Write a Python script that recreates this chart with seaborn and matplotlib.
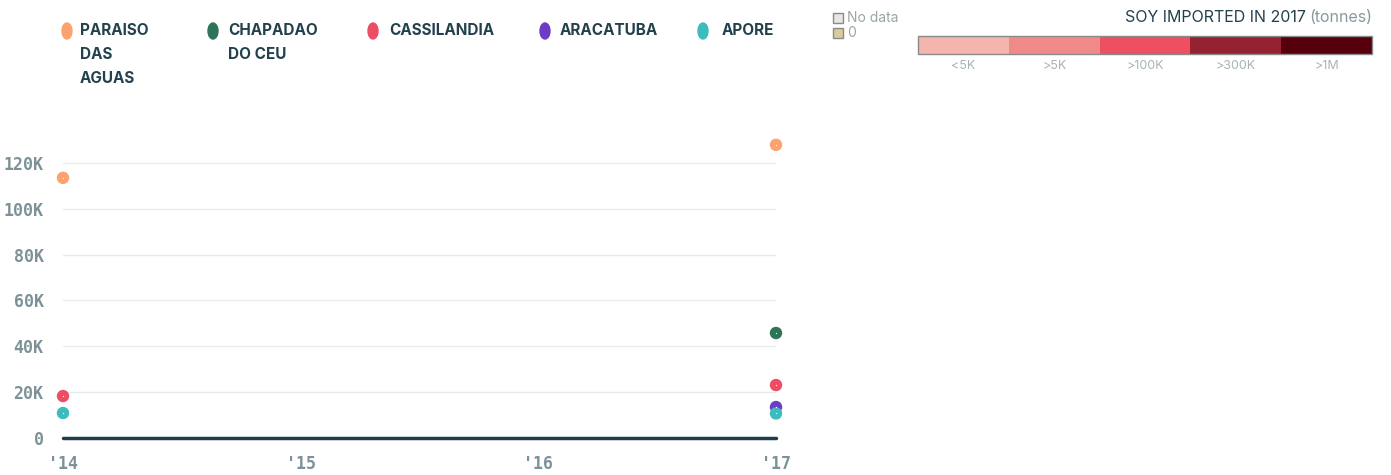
import numpy as np
import pandas as pd
import matplotlib
matplotlib.use("Agg")
import matplotlib.pyplot as plt
import seaborn as sns
from matplotlib.patches import Ellipse, Rectangle

# data (tonnes)
municipalities = ["PARAISO\nDAS\nAGUAS", "CHAPADAO\nDO CEU", "CASSILANDIA", "ARACATUBA", "APORE"]
colors = ["#fba26f", "#2d7459", "#ee4d66", "#6e3bc4", "#3dbcbd"]
years = [2014, 2017]
paraiso = [113500, 127900]
chapadao = [np.nan, 45800]
cassilandia = [18300, 23100]
aracatuba = [np.nan, 13500]
apore = [10900, 10700]

yticks = [0, 20000, 40000, 60000, 80000, 100000, 120000]
ytick_labels = ["0", "20K", "40K", "60K", "80K", "100K", "120K"]
xticks = [2014, 2015, 2016, 2017]
xtick_labels = ["'14", "'15", "'16", "'17"]

scale_colors = ["#f4b5ae", "#f08a88", "#ee4f62", "#952231", "#55000c"]
scale_labels = ["<5K", ">5K", ">100K", ">300K", ">1M"]

rows = []
for name, vals in zip(municipalities, [paraiso, chapadao, cassilandia, aracatuba, apore]):
    for yr, v in zip(years, vals):
        if not np.isnan(v):
            rows.append({"year": yr, "value": v, "name": name})
df = pd.DataFrame(rows)

sns.set_style("white")
plt.rcParams["font.family"] = ["Inter", "DejaVu Sans"]

W, H = 1391, 475
fig = plt.figure(figsize=(W / 100, H / 100), dpi=100)
ax = fig.add_axes([63 / W, 1 - 438 / H, 713 / W, 298 / H])

for y in yticks[1:]:
    ax.axhline(y, color="#e8ecec", lw=1, zorder=0)
ax.axhline(0, color="#1f3d4a", lw=2.5, zorder=1, clip_on=False)

sns.scatterplot(data=df, x="year", y="value", hue="name", palette=dict(zip(municipalities, colors)),
                hue_order=municipalities, s=80, edgecolor="none", legend=False, ax=ax, clip_on=False, zorder=3)
ax.scatter(df["year"], df["value"], s=0.8, color="white", zorder=4, clip_on=False, lw=0)

ax.set_xlim(2014, 2017)
ax.set_ylim(0, 130000)
ax.set_xticks(xticks)
ax.set_xticklabels(xtick_labels)
ax.set_yticks(yticks)
ax.set_yticklabels(ytick_labels)
ax.set_xlabel("")
ax.set_ylabel("")
for s in ax.spines.values():
    s.set_visible(False)
ax.tick_params(length=0)
ax.tick_params(axis="y", pad=14)
ax.tick_params(axis="x", pad=12)
for lab in ax.get_xticklabels() + ax.get_yticklabels():
    lab.set_family("DejaVu Sans Mono")
    lab.set_fontweight("bold")
    lab.set_color("#7d9298")
    lab.set_fontsize(12)

# legend
mark_x = [67, 213, 373, 545, 703]
text_x = [80, 228, 389, 560, 722]
for name, c, mx, tx in zip(municipalities, colors, mark_x, text_x):
    fig.patches.append(Ellipse((mx / W, 1 - 31 / H), 10 / W, 16 / H, color=c, transform=fig.transFigure))
    fig.text(tx / W, 1 - 23 / H, name, fontsize=11, fontweight="bold", color="#23414d",
             va="top", ha="left", linespacing=1.75)

# choropleth scale legend
fig.patches.append(Rectangle((833 / W, 1 - 23 / H), 10 / W, 10 / H, facecolor="#e6e6e6",
                             edgecolor="#8a8a8a", lw=1, transform=fig.transFigure))
fig.patches.append(Rectangle((833 / W, 1 - 38 / H), 10 / W, 10 / H, facecolor="#d8cc9a",
                             edgecolor="#8a8a8a", lw=1, transform=fig.transFigure))
fig.text(847 / W, 1 - 18 / H, "No data", fontsize=10, color="#9aa5a8", va="center")
fig.text(847 / W, 1 - 33 / H, "0", fontsize=10, color="#9aa5a8", va="center")

x0, x1 = 918, 1372
seg = (x1 - x0) / len(scale_colors)
for i, (c, lab) in enumerate(zip(scale_colors, scale_labels)):
    fig.patches.append(Rectangle(((x0 + i * seg) / W, 1 - 54 / H), seg / W, 18 / H, facecolor=c,
                                 edgecolor="none", transform=fig.transFigure))
    fig.text((x0 + (i + 0.5) * seg) / W, 1 - 66 / H, lab, fontsize=9, color="#a9b3b5",
             ha="center", va="center")
fig.patches.append(Rectangle((x0 / W, 1 - 54 / H), (x1 - x0) / W, 18 / H, facecolor="none",
                             edgecolor="#8a8a8a", lw=1, transform=fig.transFigure))
t2 = fig.text(x1 / W, 1 - 18 / H, "(tonnes)", fontsize=11.5, color="#8a9a9e", ha="right", va="center")
fig.canvas.draw()
bb = t2.get_window_extent()
fig.text((bb.x0 - 3) / W, 1 - 18 / H, "SOY IMPORTED IN 2017", fontsize=11.5, color="#23414d",
         ha="right", va="center")

fig.savefig("out.png", dpi=100)
